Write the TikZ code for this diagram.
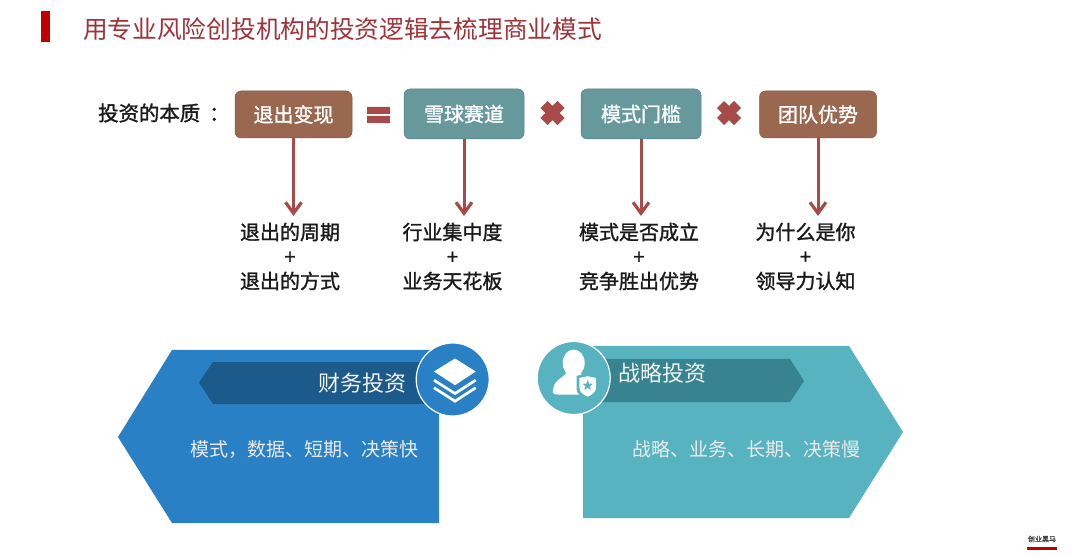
\documentclass[tikz,border=0pt]{standalone}
\usepackage{fontspec}
\setmainfont{Noto Sans CJK SC}
\newfontfamily\cjkbold[FakeBold=1.4]{Noto Sans CJK SC}
\usetikzlibrary{arrows.meta,shapes.geometric}
\definecolor{barred}{HTML}{C00000}
\definecolor{titlered}{HTML}{A0323A}
\definecolor{brownbox}{HTML}{99684F}
\definecolor{tealbox}{HTML}{67989B}
\definecolor{opred}{HTML}{A84A4A}
\definecolor{blueshape}{HTML}{2A80C5}
\definecolor{blueband}{HTML}{1B5A8A}
\definecolor{tealshape}{HTML}{57B3C0}
\definecolor{tealband}{HTML}{37838F}
\definecolor{inktext}{HTML}{1A1A1A}
\tikzset{
  keybox/.style={rounded corners=6pt,inner sep=0pt,text=white,font=\cjkbold\fontsize{20}{22}\selectfont,draw=#1!85!black,line width=0.5pt,fill=#1},
  downarrow/.style={draw=opred,line width=3pt,-{Straight Barb[length=11pt,width=16pt,line width=3.2pt]}},
  detail/.style={align=center,inner sep=0pt,text=inktext,font=\cjkbold\fontsize{20}{24.5}\selectfont},
  bodytext/.style={inner sep=0pt,text=white!92!black,font=\fontsize{19}{22}\selectfont},
  headtext/.style={inner sep=0pt,text=white!95!black,font=\fontsize{22}{24}\selectfont},
  opmark/.style={draw=opred,line width=10pt},
  badge/.style={circle,minimum size=73pt,inner sep=0pt,draw=white,line width=1.2pt,fill=#1},
}
\begin{document}
\begin{tikzpicture}[x=1pt,y=-1pt]
\useasboundingbox[fill=white] (0,0) rectangle (1080,556);
% title
\fill[barred] (41,11) rectangle (50,42);
\node[anchor=west,inner sep=0pt,text=titlered,font=\fontsize{24.7}{28}\selectfont] (title) at (83,29) {用专业风险创投机构的投资逻辑去梳理商业模式};
% equation row
\node[anchor=west,inner sep=0pt,text=inktext,font=\cjkbold\fontsize{20.4}{24}\selectfont] (essence) at (98,113) {投资的本质\hspace{9pt}：};
\node[keybox=brownbox,minimum width=117pt,minimum height=47pt] (b1) at (293.5,114.5) {退出变现};
\node[keybox=tealbox,minimum width=120pt,minimum height=50pt] (b2) at (464,114) {雪球赛道};
\node[keybox=tealbox,minimum width=120pt,minimum height=50pt] (b3) at (641,114) {模式门槛};
\node[keybox=brownbox,minimum width=117pt,minimum height=47pt] (b4) at (818,114.5) {团队优势};
% operators
\fill[opred] (367,107) rectangle (390,114) (367,116) rectangle (390,123);
\draw[opmark] (544,104.5) -- (561,121.5) (544,121.5) -- (561,104.5);
\draw[opmark] (720.5,104.5) -- (737.5,121.5) (720.5,121.5) -- (737.5,104.5);
% arrows
\coordinate (e1) at (293.5,216);
\coordinate (e2) at (464,216);
\coordinate (e3) at (641,216);
\coordinate (e4) at (818,216);
\draw[downarrow] (b1.south) -- (e1);
\draw[downarrow] (b2.south) -- (e2);
\draw[downarrow] (b3.south) -- (e3);
\draw[downarrow] (b4.south) -- (e4);
% details
\node[detail] (d1) at (290,256.5) {退出的周期\\+\\退出的方式};
\node[detail] (d2) at (452.5,256.5) {行业集中度\\+\\业务天花板};
\node[detail] (d3) at (639,256.5) {模式是否成立\\+\\竞争胜出优势};
\node[detail] (d4) at (805.5,256.5) {为什么是你\\+\\领导力认知};
% left panel
\fill[blueshape] (172,350) -- (439,350) -- (439,523) -- (172,523) -- (118,437) -- cycle;
\fill[blueband] (199,382.5) -- (213,362) -- (440,362) -- (440,404) -- (213,404) -- cycle;
\node[headtext,anchor=east] (fin) at (407,383) {财务投资};
\node[bodytext] (finb) at (304,449) {模式，数据、短期、决策快};
\node[badge=blueshape] (finc) at (452.7,379.5) {};
\begin{scope}[shift={(finc.center)}]
  \fill[white] (2.3,-21) -- (23,-8) -- (2.3,5.7) -- (-18.7,-8) -- cycle;
  \draw[white,line width=2.7pt] (-18.7,0.7) -- (2.3,14) -- (23,0.7);
  \draw[white,line width=2.7pt] (-18.7,8.3) -- (2.3,21.7) -- (23,8.3);
\end{scope}
% right panel
\fill[tealshape] (583,346) -- (849,346) -- (903,432) -- (849,518) -- (583,518) -- cycle;
\fill[tealband] (590,359) -- (790,359) -- (804,381) -- (790,402) -- (590,402) -- cycle;
\node[headtext,anchor=west] (str) at (618,373) {战略投资};
\node[bodytext] (strb) at (746,449) {战略、业务、长期、决策慢};
\node[badge=tealshape] (strc) at (573.7,378) {};
\begin{scope}[shift={(strc.center)}]
  \fill[white] (0,-15) ellipse (11pt and 13.5pt);
  \fill[white] (-7,-6) .. controls (-8,-2) and (-19,2) .. (-20,9) .. controls (-22,14) and (-21,16.5) .. (-17,16.5) -- (6,16.5) -- (8,-3) -- (7,-6) -- cycle;
  \fill[tealshape] (2.8,-2) -- (14,-5) -- (25,-2) -- (25,11) .. controls (25,16) and (19,20) .. (14,22) .. controls (9,20) and (2.8,16) .. (2.8,11) -- cycle;
  \fill[white] (5.7,0) -- (14,-1.8) -- (22.3,0) -- (22.3,10) .. controls (22.3,14) and (18,17) .. (14,18.7) .. controls (10,17) and (5.7,14) .. (5.7,10) -- cycle;
  \node[star,star points=5,star point ratio=2.4,fill=tealshape,inner sep=0pt,minimum size=11pt] (shieldstar) at (14,7.5) {};
\end{scope}
% logo
\node[inner sep=0pt,text=black!75,font=\cjkbold\fontsize{7}{8}\selectfont] (logo) at (1042,539) {创业黑马};
\fill[red!75!black] (1027,547) rectangle (1057,550);
\end{tikzpicture}
\end{document}
